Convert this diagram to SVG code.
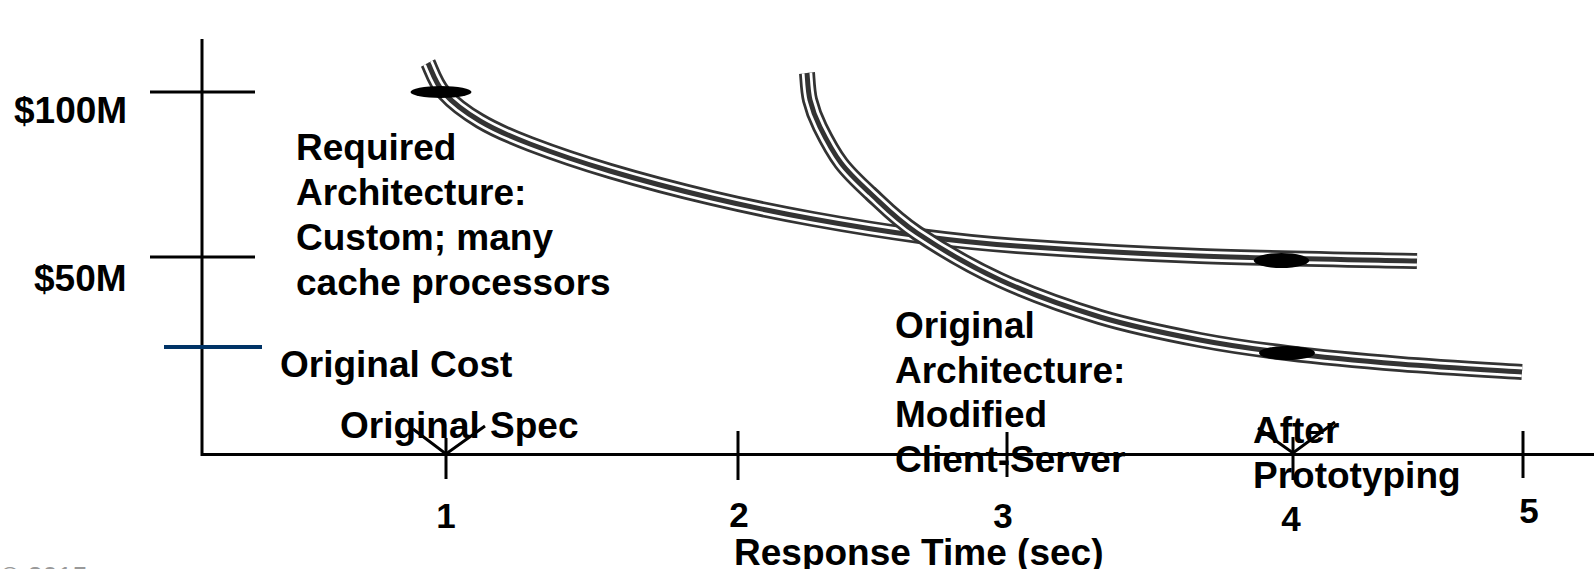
<svg xmlns="http://www.w3.org/2000/svg" width="1594" height="569" viewBox="0 0 1594 569">
<style>
.ax{stroke:#000;stroke-width:3;fill:none}
.t{font-family:"Liberation Sans",Arial,sans-serif;font-weight:bold;font-size:37px;fill:#000}
.d{font-family:"Liberation Sans",Arial,sans-serif;font-weight:bold;font-size:35px;fill:#000}
.c1{fill:none;stroke:#333;stroke-width:16}
.c2{fill:none;stroke:#fff;stroke-width:10.5}
.c3{fill:none;stroke:#333;stroke-width:5}
.dot{fill:#000}
</style>
<defs>
<path id="curveA" d="M428,63 C430.7,68 435.3,83.3 444,93 C452.7,102.7 465.7,112.5 480,121 C494.3,129.5 508.3,135.7 530,144 C551.7,152.3 579.7,162 610,171 C640.3,180 678.2,190 712,198 C745.8,206 778.3,212.7 813,219 C847.7,225.3 886,231.5 920,236 C954,240.5 970.3,242.7 1017,246 C1063.7,249.3 1133.3,253.5 1200,256 C1266.7,258.5 1380.8,260.2 1417,261"/>
<path id="curveB" d="M807,73 C807.5,77.5 807.8,91 810,100 C812.2,109 814.8,116.5 820,127 C825.2,137.5 832.7,152 841,163 C849.3,174 857.3,181.3 870,193 C882.7,204.7 895.3,218.5 917,233 C938.7,247.5 969.5,266 1000,280 C1030.5,294 1066.7,307 1100,317 C1133.3,327 1168.8,334 1200,340 C1231.2,346 1253.7,349 1287,353 C1320.3,357 1360.8,360.8 1400,364 C1439.2,367.2 1501.7,370.7 1522,372"/>
</defs>
<g id="axes">
<line class="ax" x1="202" y1="39" x2="202" y2="456"/>
<line class="ax" x1="202" y1="454.5" x2="1594" y2="454.5"/>
<line class="ax" x1="150" y1="92" x2="255" y2="92"/>
<line class="ax" x1="150" y1="257" x2="255" y2="257"/>
<line x1="164" y1="347" x2="262" y2="347" stroke="#003366" stroke-width="4"/>
<line class="ax" x1="446" y1="438" x2="446" y2="479"/>
<polyline class="ax" points="413,429 446,454 485,426"/>
<line class="ax" x1="738" y1="431" x2="738" y2="480"/>
<line class="ax" x1="1007" y1="432" x2="1007" y2="477"/>
<line class="ax" x1="1293" y1="437" x2="1293" y2="480"/>
<polyline class="ax" points="1258,428 1293,453 1335,422"/>
<line class="ax" x1="1523" y1="431" x2="1523" y2="478"/>
</g>
<g id="curves">
<use href="#curveA" class="c1"/><use href="#curveA" class="c2"/><use href="#curveA" class="c3"/>
<use href="#curveB" class="c1"/><use href="#curveB" class="c2"/><use href="#curveB" class="c3"/>
</g>
<g id="markers">
<ellipse class="dot" cx="441" cy="92" rx="30.5" ry="6"/>
<ellipse class="dot" cx="1281.5" cy="260.5" rx="27.7" ry="7.5"/>
<ellipse class="dot" cx="1287" cy="353" rx="28" ry="7"/>
</g>
<g id="y-labels">
<text class="t" x="14" y="123">$100M</text>
<text class="t" x="34" y="291">$50M</text>
<text class="t" x="280" y="377">Original Cost</text>
</g>
<g id="required-arch">
<text class="t" x="296" y="160">Required</text>
<text class="t" x="296" y="205">Architecture:</text>
<text class="t" x="296" y="250">Custom; many</text>
<text class="t" x="296" y="295">cache processors</text>
</g>
<g id="original-arch">
<text class="t" x="895" y="338">Original</text>
<text class="t" x="895" y="383">Architecture:</text>
<text class="t" x="895" y="427">Modified</text>
<text class="t" x="895" y="472">Client-Server</text>
</g>
<g id="original-spec"><text class="t" x="340" y="438">Original Spec</text></g>
<g id="after-proto">
<text class="t" x="1253" y="443">After</text>
<text class="t" x="1253" y="488">Prototyping</text>
</g>
<g id="x-labels">
<text class="d" x="446" y="528" text-anchor="middle">1</text>
<text class="d" x="739" y="527" text-anchor="middle">2</text>
<text class="d" x="1003" y="528" text-anchor="middle">3</text>
<text class="d" x="1291" y="531" text-anchor="middle">4</text>
<text class="d" x="1529" y="523" text-anchor="middle">5</text>
<text class="t" x="734" y="565">Response Time (sec)</text>
</g>
<text x="0" y="586" font-family="Liberation Sans,Arial,sans-serif" font-size="27" fill="#999">© 2015</text>
</svg>
